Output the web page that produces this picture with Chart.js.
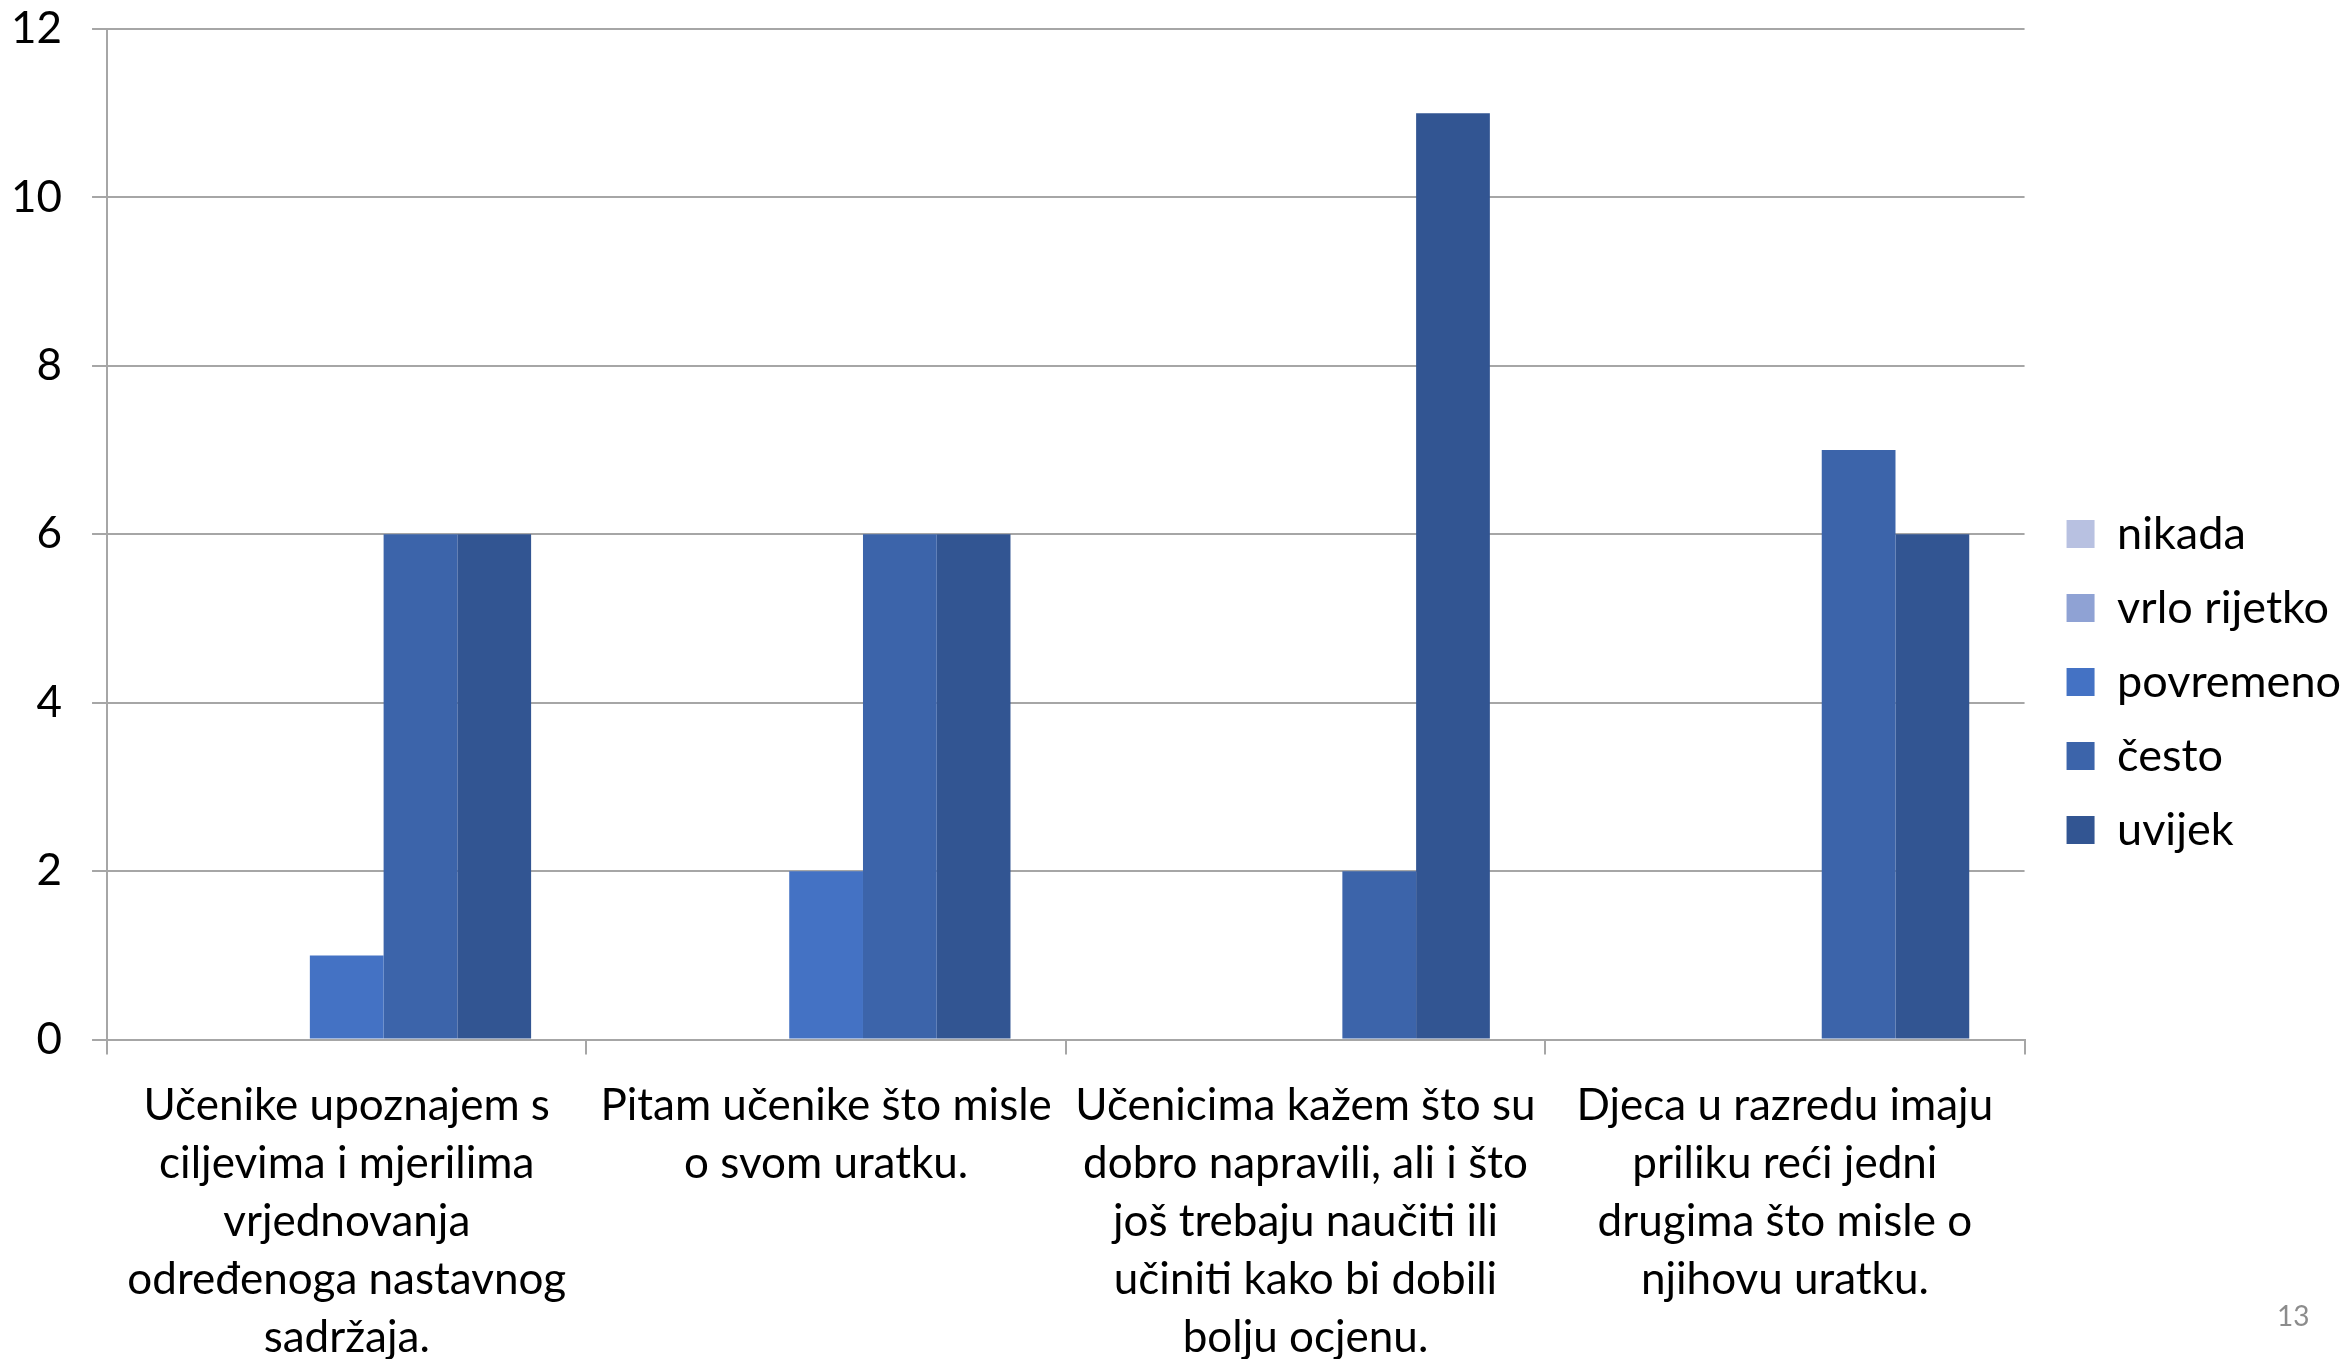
<!DOCTYPE html>
<html>
<head>
<meta charset="utf-8">
<script src="https://cdn.jsdelivr.net/npm/chart.js@4.4.1/dist/chart.umd.min.js"></script>
<style>
  html, body { margin: 0; padding: 0; background: #fff; }
  #wrap { position: relative; width: 2346px; height: 1359px; }
  #pageNo { position: absolute; left: 2277px; top: 1298px; font: 28px Lato, sans-serif; color: #8c8c8c; }
</style>
</head>
<body>
<div id="wrap">
  <canvas id="chart"></canvas>
  <div id="pageNo">13</div>
</div>
<script>
const categories = [
  ['Učenike upoznajem s', 'ciljevima i mjerilima', 'vrjednovanja', 'određenoga nastavnog', 'sadržaja.'],
  ['Pitam učenike što misle', 'o svom uratku.'],
  ['Učenicima kažem što su', 'dobro napravili, ali i što', 'još trebaju naučiti ili', 'učiniti kako bi dobili', 'bolju ocjenu.'],
  ['Djeca u razredu imaju', 'priliku reći jedni', 'drugima što misle o', 'njihovu uratku.']
];

const seriesNames = ['nikada', 'vrlo rijetko', 'povremeno', 'često', 'uvijek'];
const seriesColors = ['#b8c1e1', '#8fa2d4', '#4472c4', '#3c64aa', '#325592'];

const nikada = [0, 0, 0, 0];
const vrloRijetko = [0, 0, 0, 0];
const povremeno = [1, 2, 0, 0];
const cesto = [6, 6, 2, 7];
const uvijek = [6, 6, 11, 6];

const yTicks = [0, 2, 4, 6, 8, 10, 12];

const seriesData = [nikada, vrloRijetko, povremeno, cesto, uvijek];
const FONT = 'Lato, "Noto Sans", sans-serif';
const gridColor = '#a6a6a6';

// nudge the legend a bit to the right of the plot, like the original
const legendShift = {
  id: 'legendShift',
  afterLayout(chart) {
    if (chart.legend) {
      chart.legend.left += 13;
      chart.legend.right += 13;
    }
  }
};

const ctx = document.getElementById('chart').getContext('2d');
new Chart(ctx, {
  type: 'bar',
  data: {
    labels: categories,
    datasets: seriesNames.map((name, i) => ({
      label: name,
      data: seriesData[i],
      backgroundColor: seriesColors[i],
      borderWidth: 0,
      barPercentage: 1,
      categoryPercentage: 5 / 6.5
    }))
  },
  plugins: [legendShift],
  options: {
    responsive: true,
    maintainAspectRatio: false,
    animation: false,
    layout: { padding: { left: -19, top: -25, right: 8, bottom: -30 } },
    plugins: {
      tooltip: { enabled: false },
      legend: {
        position: 'right',
        align: 'center',
        labels: {
          color: '#000',
          font: { family: FONT, size: 45 },
          boxWidth: 28,
          boxHeight: 28,
          padding: 29
        }
      }
    },
    scales: {
      x: {
        grid: {
          display: true,
          drawOnChartArea: false,
          drawTicks: true,
          tickLength: 15,
          color: gridColor,
          lineWidth: 2,
          offset: true
        },
        border: { display: true, color: gridColor, width: 2 },
        ticks: {
          color: '#000',
          font: { family: FONT, size: 44, lineHeight: 1.32 },
          autoSkip: false,
          maxRotation: 0,
          minRotation: 0,
          padding: 22
        }
      },
      y: {
        min: 0,
        max: 12,
        afterBuildTicks: axis => { axis.ticks = yTicks.map(v => ({ value: v })); },
        afterFit: axis => { axis.paddingTop = 29; axis.paddingBottom = 0; },
        grid: {
          color: gridColor,
          lineWidth: 2,
          tickLength: 15
        },
        border: { display: true, color: gridColor, width: 2 },
        ticks: {
          color: '#000',
          font: { family: FONT, size: 44 },
          padding: 30
        }
      }
    }
  }
});
</script>
</body>
</html>
